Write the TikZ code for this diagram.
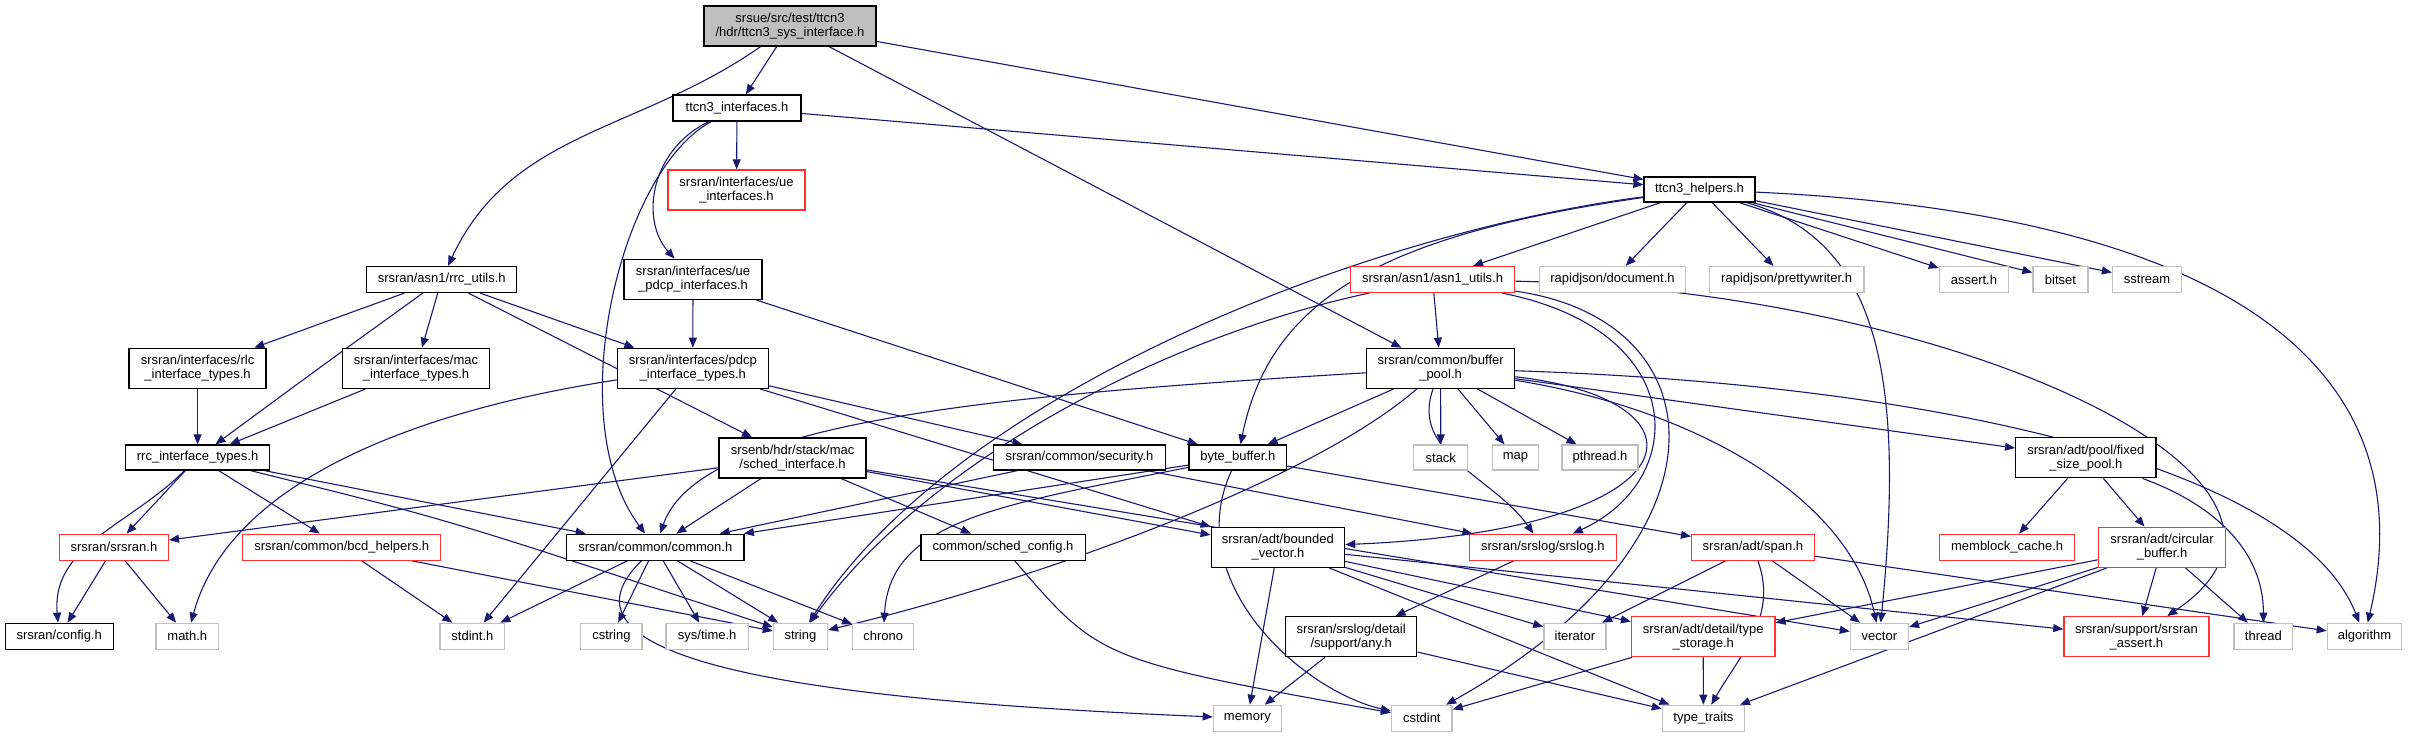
\documentclass[tikz,border=0pt]{standalone}
\usepackage{fontspec}
\setmainfont{Liberation Sans}
\usetikzlibrary{arrows.meta}
\definecolor{edgeblue}{HTML}{191970}
\definecolor{grayb}{HTML}{BFBFBF}
\definecolor{redb}{HTML}{FF3030}
\pgfdeclarelayer{bg}
\pgfsetlayers{bg,main}
\begin{document}
\begin{tikzpicture}[x=1pt,y=-1pt,
  box/.style 2 args={draw=black, line width=1.3pt, fill=white, inner sep=0pt, align=center,
    font=\fontsize{13}{14}\selectfont, minimum width=#1pt, minimum height=#2pt},
  rbox/.style 2 args={box={#1}{#2}, draw=redb},
  gbox/.style 2 args={box={#1}{#2}, draw=grayb},
  rootbox/.style 2 args={box={#1}{#2}, fill=grayb},
  edge/.style={draw=edgeblue, line width=1.1pt, -{Triangle[length=10pt,width=8pt]}}
]
\useasboundingbox (0,0) rectangle (2421,737);
% row 1
\node[rootbox={172}{40}] (root) at (790,26) {srsue/src/test/ttcn3\\/hdr/ttcn3\_sys\_interface.h};
% row 2
\node[box={128}{26}] (ti) at (737,108) {ttcn3\_interfaces.h};
% row 3
\node[rbox={137}{40}] (uei) at (736.5,190) {srsran/interfaces/ue\\\_interfaces.h};
\node[box={111}{25}] (th) at (1699.5,189.5) {ttcn3\_helpers.h};
% row 4
\node[box={150}{26}] (rrcu) at (441.7,279.5) {srsran/asn1/rrc\_utils.h};
\node[box={138}{40}] (uepdcp) at (693,279.3) {srsran/interfaces/ue\\\_pdcp\_interfaces.h};
\node[rbox={164}{26}] (asn1) at (1432.6,279.5) {srsran/asn1/asn1\_utils.h};
\node[gbox={145.5}{26}] (doc) at (1612.5,279.5) {rapidjson/document.h};
\node[gbox={154.5}{26}] (pw) at (1786.6,279.5) {rapidjson/prettywriter.h};
\node[gbox={69}{26}] (assert) at (1973.9,279.5) {assert.h};
\node[gbox={55}{26}] (bitset) at (2060.5,279.5) {bitset};
\node[gbox={69}{26}] (sstream) at (2147,279.5) {sstream};
% row 5
\node[box={137}{40}] (rlc) at (197.6,368.3) {srsran/interfaces/rlc\\\_interface\_types.h};
\node[box={147}{40}] (mac) at (416,368.3) {srsran/interfaces/mac\\\_interface\_types.h};
\node[box={151}{40}] (pdcp) at (692.8,368.3) {srsran/interfaces/pdcp\\\_interface\_types.h};
\node[box={148}{40}] (bp) at (1440.6,368.3) {srsran/common/buffer\\\_pool.h};
% row 6
\node[box={144}{25}] (rrct) at (197.6,457.5) {rrc\_interface\_types.h};
\node[box={147}{40}] (sched) at (792.6,458) {srsenb/hdr/stack/mac\\/sched\_interface.h};
\node[box={172.6}{25}] (sec) at (1079.5,457.5) {srsran/common/security.h};
\node[box={97.6}{25}] (bb) at (1237.8,457.5) {byte\_buffer.h};
\node[gbox={54}{25}] (stack) at (1440.8,457.5) {stack};
\node[gbox={46.5}{25}] (map) at (1515.5,457.5) {map};
\node[gbox={76}{25}] (pthread) at (1600,457.5) {pthread.h};
\node[box={140.3}{40}] (fsp) at (2085.8,457.8) {srsran/adt/pool/fixed\\\_size\_pool.h};
% row 7
\node[rbox={109}{26}] (srsran) at (113.9,547.2) {srsran/srsran.h};
\node[rbox={198}{26}] (bcd) at (341.7,547.2) {srsran/common/bcd\_helpers.h};
\node[box={177.3}{26}] (common) at (655.3,547.2) {srsran/common/common.h};
\node[box={164.3}{26}] (schedcfg) at (1003,547.2) {common/sched\_config.h};
\node[box={133.3}{40}] (bv) at (1277.9,547.3) {srsran/adt/bounded\\\_vector.h};
\node[rbox={146.7}{26}] (srslog) at (1542.9,547.2) {srsran/srslog/srslog.h};
\node[rbox={122.6}{26}] (span) at (1752.9,547.2) {srsran/adt/span.h};
\node[rbox={134.6}{26}] (memblock) at (2007.1,547.2) {memblock\_cache.h};
\node[rbox={127.2}{40}] (cb) at (2162.1,547.3) {srsran/adt/circular\\\_buffer.h};
% row 8
\node[box={108}{26}] (config) at (59.2,636.3) {srsran/config.h};
\node[gbox={62.5}{26}] (math) at (187.3,636.3) {math.h};
\node[gbox={64.6}{26}] (stdint) at (472.4,636.3) {stdint.h};
\node[gbox={61.4}{26}] (cstring) at (611.4,636.3) {cstring};
\node[gbox={82.6}{26}] (systime) at (707.2,636.3) {sys/time.h};
\node[gbox={54}{26}] (string) at (800.4,636.3) {string};
\node[gbox={61}{26}] (chrono) at (883.2,636.3) {chrono};
\node[box={131.2}{40}] (any) at (1351.2,636.7) {srsran/srslog/detail\\/support/any.h};
\node[gbox={62}{26}] (iterator) at (1574.9,636.3) {iterator};
\node[rbox={143.5}{40}] (ts) at (1703.2,636.7) {srsran/adt/detail/type\\\_storage.h};
\node[gbox={58}{26}] (vector) at (1879.4,636.3) {vector};
\node[rbox={145}{40}] (sa) at (2136.4,636.7) {srsran/support/srsran\\\_assert.h};
\node[gbox={58.7}{26}] (thread) at (2263.4,636.3) {thread};
\node[gbox={74.3}{26}] (algorithm) at (2364.5,636.3) {algorithm};
% row 9
\node[gbox={68}{26}] (memory) at (1247.4,718.3) {memory};
\node[gbox={60.5}{26}] (cstdint) at (1421.8,718.3) {cstdint};
\node[gbox={82}{26}] (tt) at (1703.4,718.3) {type\_traits};

\begin{pgfonlayer}{bg}
% root
\draw[edge] (root) -- (ti);
\draw[edge] (root) to[out=215,in=65] (rrcu);
\draw[edge] (root) -- (bp);
\draw[edge] (root) -- (th);
% ttcn3_interfaces
\draw[edge] (ti) -- (uei);
\draw[edge] (ti) -- (th);
\draw[edge] (ti) .. controls (650,150) and (640,220) .. (uepdcp);
\draw[edge] (ti) .. controls (620,170) and (560,420) .. (common);
% ttcn3_helpers
\draw[edge] (th) -- (asn1);
\draw[edge] (th) -- (doc);
\draw[edge] (th) -- (pw);
\draw[edge] (th) -- (assert);
\draw[edge] (th) -- (bitset);
\draw[edge] (th) -- (sstream);
\draw[edge] (th) .. controls (2250,215) and (2425,380) .. (algorithm);
\draw[edge] (th) .. controls (1880,240) and (1905,380) .. (vector);
\draw[edge] (th) .. controls (1380,235) and (1270,300) .. (bb);
\draw[edge] (th) .. controls (1350,235) and (950,400) .. (string);
% rrc_utils
\draw[edge] (rrcu) -- (rlc);
\draw[edge] (rrcu) -- (mac);
\draw[edge] (rrcu) -- (pdcp);
\draw[edge] (rrcu) .. controls (330,360) .. (rrct);
\draw[edge] (rrcu) -- (sched);
% ue_pdcp
\draw[edge] (uepdcp) -- (pdcp);
\draw[edge] (uepdcp) -- (bb);
% asn1_utils
\draw[edge] (asn1) -- (bp);
\draw[edge] (asn1) .. controls (1150,340) and (920,470) .. (string);
\draw[edge] (asn1) .. controls (1690,330) and (1690,480) .. (srslog);
\draw[edge] (asn1) .. controls (1950,290) and (2370,480) .. (sa);
\draw[edge] (asn1) .. controls (1720,320) and (1740,540) .. (cstdint);
% rlc, mac
\draw[edge] (rlc) -- (rrct);
\draw[edge] (mac) -- (rrct);
% pdcp
\draw[edge] (pdcp) -- (sec);
\draw[edge] (pdcp) -- (bv);
\draw[edge] (pdcp) .. controls (420,410) and (230,480) .. (math);
\draw[edge] (pdcp) -- (stdint);
% buffer_pool
\draw[edge] (bp) -- (bb);
\draw[edge] (bp) -- (stack);
\draw[edge] (bp) -- (map);
\draw[edge] (bp) -- (pthread);
\draw[edge] (bp) -- (fsp);
\draw[edge] (bp) .. controls (1000,395) and (700,420) .. (common);
\draw[edge] (bp) .. controls (1300,490) and (1000,590) .. (string);
\draw[edge] (bp) .. controls (1950,385) and (2300,470) .. (algorithm);
\draw[edge] (bp) .. controls (1700,410) and (1850,500) .. (vector);
\draw[edge] (bp) to[out=250,in=125] (srslog);
\draw[edge] (bp) .. controls (1720,400) and (1700,530) .. (bv);
% rrc_interface_types
\draw[edge] (rrct) to[out=225,in=95] (config);
\draw[edge] (rrct) -- (srsran);
\draw[edge] (rrct) -- (bcd);
\draw[edge] (rrct) -- (common);
\draw[edge] (rrct) .. controls (450,520) .. (string);
% sched_interface
\draw[edge] (sched) -- (srsran);
\draw[edge] (sched) -- (common);
\draw[edge] (sched) -- (schedcfg);
\draw[edge] (sched) -- (bv);
\draw[edge] (sched) -- (vector);
% security
\draw[edge] (sec) -- (common);
\draw[edge] (sec) -- (srslog);
% byte_buffer
\draw[edge] (bb) -- (common);
\draw[edge] (bb) .. controls (1000,505) and (890,520) .. (chrono);
\draw[edge] (bb) .. controls (1180,580) and (1300,690) .. (cstdint);
\draw[edge] (bb) -- (span);
% fixed_size_pool
\draw[edge] (fsp) -- (memblock);
\draw[edge] (fsp) -- (cb);
\draw[edge] (fsp) to[out=-20,in=90] (thread);
% srsran.h, bcd
\draw[edge] (srsran) -- (config);
\draw[edge] (srsran) -- (math);
\draw[edge] (bcd) -- (stdint);
\draw[edge] (bcd) -- (string);
% common
\draw[edge] (common) -- (stdint);
\draw[edge] (common) -- (cstring);
\draw[edge] (common) -- (systime);
\draw[edge] (common) -- (string);
\draw[edge] (common) -- (chrono);
\draw[edge] (common) .. controls (540,660) and (800,700) .. (memory);
% sched_config
\draw[edge] (schedcfg) .. controls (1100,660) .. (cstdint);
% bounded_vector
\draw[edge] (bv) -- (memory);
\draw[edge] (bv) -- (iterator);
\draw[edge] (bv) -- (tt);
\draw[edge] (bv) -- (ts);
\draw[edge] (bv) -- (sa);
% srslog
\draw[edge] (srslog) -- (any);
% span
\draw[edge] (span) -- (iterator);
\draw[edge] (span) to[out=-70,in=60] (tt);
\draw[edge] (span) -- (vector);
\draw[edge] (span) -- (algorithm);
% circular_buffer
\draw[edge] (cb) -- (ts);
\draw[edge] (cb) -- (vector);
\draw[edge] (cb) -- (tt);
\draw[edge] (cb) -- (sa);
\draw[edge] (cb) -- (thread);
% any
\draw[edge] (any) -- (memory);
\draw[edge] (any) -- (tt);
% type_storage
\draw[edge] (ts) -- (cstdint);
\draw[edge] (ts) -- (tt);
\end{pgfonlayer}
\end{tikzpicture}
\end{document}
